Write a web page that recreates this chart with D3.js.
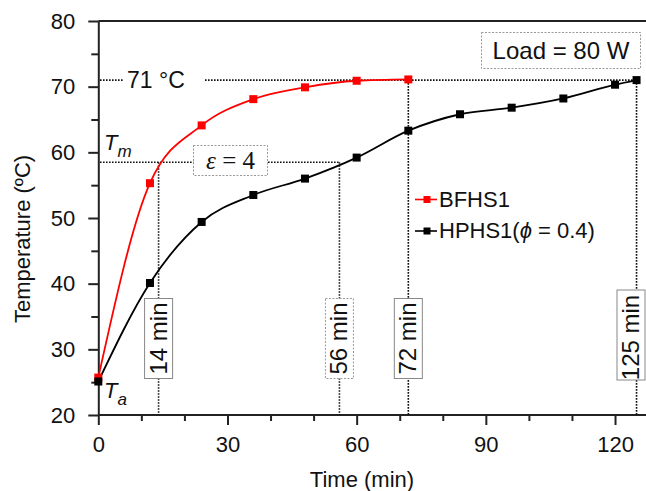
<!DOCTYPE html>
<html>
<head>
<meta charset="utf-8">
<script src="https://cdn.jsdelivr.net/npm/d3@7"></script>
<style>
  html, body { margin: 0; padding: 0; background: #fff; }
  svg { display: block; font-family: "Liberation Sans", Arial, sans-serif; }
</style>
</head>
<body>
<svg id="chart" width="646" height="491"></svg>
<script>
// Heating curves of the two heat sinks at 80 W load
const timeBF = [0, 12, 24, 36, 48, 60, 72];
const tempBF = [25.7, 55.3, 64.1, 68.1, 69.9, 70.9, 71.1];
const timeHP = [0, 12, 24, 36, 48, 60, 72, 84, 96, 108, 120, 125];
const tempHP = [25.1, 40.1, 49.4, 53.5, 56.0, 59.2, 63.3, 65.8, 66.8, 68.2, 70.3, 71.0];
const seriesNames = ["BFHS1", "HPHS1("];
const seriesColors = ["#ff0000", "#000000"];

const xMajor = [0, 30, 60, 90, 120];
const xMinor = [10, 20, 40, 50, 70, 80, 100, 110];
const yMajor = [20, 30, 40, 50, 60, 70, 80];
const yMinor = [25, 35, 45, 55, 65, 75];

const steadyTemp = 71;      // steady-state temperature
const meanTemp = 58.5;      // T_m level
const markTimes = [14, 56, 72, 125];
const markLabels = ["14 min", "56 min", "72 min", "125 min"];
const markFrom = [meanTemp, meanTemp, steadyTemp, steadyTemp];
const markDotted = [false, true, false, false];

const svg = d3.select("#chart");
const x = d3.scaleLinear().domain([0, 128]).range([98.3, 98.3 + 128 * 4.306]);
const y = d3.scaleLinear().domain([20, 80]).range([415, 21]);
const W = 646;

// axes
const axisStyle = g => {
  g.selectAll("path, line").attr("stroke", "#222").attr("stroke-width", 2);
  g.selectAll("text").attr("font-size", 22).attr("fill", "#111")
    .attr("font-family", "'Liberation Sans', Arial, sans-serif");
};
svg.append("g").attr("transform", `translate(0,${y(20)})`)
  .call(d3.axisBottom(x).tickValues(xMinor).tickSize(6).tickFormat(""))
  .call(g => g.select(".domain").remove()).call(axisStyle);
svg.append("g").attr("transform", `translate(0,${y(20)})`)
  .call(d3.axisBottom(x).tickValues(xMajor).tickSize(10).tickSizeOuter(0).tickPadding(11))
  .call(g => g.select(".domain").attr("d", `M${x(0)},0H${W}`)).call(axisStyle);
svg.append("g").attr("transform", `translate(${x(0)},0)`)
  .call(d3.axisLeft(y).tickValues(yMinor).tickSize(7).tickFormat(""))
  .call(g => g.select(".domain").remove()).call(axisStyle);
svg.append("g").attr("transform", `translate(${x(0)},0)`)
  .call(d3.axisLeft(y).tickValues(yMajor).tickSize(10).tickSizeOuter(0).tickPadding(13))
  .call(axisStyle);
// top frame line
svg.append("line").attr("x1", x(0)).attr("x2", W).attr("y1", y(80)).attr("y2", y(80))
  .attr("stroke", "#222").attr("stroke-width", 2);

// axis titles
svg.append("text").attr("x", 362).attr("y", 487).attr("text-anchor", "middle")
  .attr("font-size", 22).attr("fill", "#111").text("Time (min)");
svg.append("text").attr("transform", "translate(30,239) rotate(-90)")
  .attr("text-anchor", "middle").attr("font-size", 22).attr("fill", "#111")
  .text("Temperature (ºC)");

// dotted guide lines
const guide = svg.append("g").attr("stroke", "#111").attr("stroke-width", 1.6)
  .attr("stroke-dasharray", "1.6,1.4").attr("fill", "none");
guide.append("line").attr("x1", 100).attr("x2", x(125))
  .attr("y1", y(steadyTemp)).attr("y2", y(steadyTemp));
guide.append("line").attr("x1", 100).attr("x2", x(56))
  .attr("y1", y(meanTemp)).attr("y2", y(meanTemp));
markTimes.forEach((t, i) => {
  guide.append("line").attr("x1", x(t)).attr("x2", x(t))
    .attr("y1", y(markFrom[i])).attr("y2", y(20));
});

// curves
const curveData = [timeBF.map((t, i) => [t, tempBF[i]]), timeHP.map((t, i) => [t, tempHP[i]])];
const line = d3.line().x(d => x(d[0])).y(d => y(d[1])).curve(d3.curveMonotoneX);
curveData.forEach((pts, s) => {
  svg.append("path").datum(pts).attr("d", line).attr("fill", "none")
    .attr("stroke", seriesColors[s]).attr("stroke-width", 1.8);
});
curveData.forEach((pts, s) => {
  svg.append("g").selectAll("rect").data(pts).join("rect")
    .attr("x", d => x(d[0]) - 4).attr("y", d => y(d[1]) - 4)
    .attr("width", 8).attr("height", 8).attr("fill", seriesColors[s]);
});

// time labels on the vertical guides (kept inside the right edge)
markTimes.forEach((t, i) => {
  const long = markLabels[i].length > 6;
  const h = long ? 90 : 80;
  const cy = long ? 335 : 338.5;
  const cx = Math.min(x(t), W - 15);
  svg.append("rect").attr("x", cx - 14).attr("y", cy - h / 2)
    .attr("width", 28).attr("height", h).attr("fill", "#fff")
    .attr("stroke", markDotted[i] ? "#999" : "#888").attr("stroke-width", 1)
    .attr("stroke-dasharray", markDotted[i] ? "2,1.5" : null);
  svg.append("text").attr("transform", `translate(${cx + 8},${long ? 337.5 : cy}) rotate(-90)`)
    .attr("text-anchor", "middle").attr("font-size", 24).attr("fill", "#111")
    .text(markLabels[i]);
});

// steady temperature label
svg.append("rect").attr("x", 124).attr("y", y(steadyTemp) - 12).attr("width", 80)
  .attr("height", 24).attr("fill", "#fff");
svg.append("text").attr("x", 127).attr("y", 88).attr("font-size", 23)
  .attr("fill", "#111").text(`${steadyTemp} °C`);

// epsilon box
svg.append("rect").attr("x", 193.5).attr("y", 145.5).attr("width", 74).attr("height", 30)
  .attr("fill", "#fff").attr("stroke", "#999").attr("stroke-dasharray", "2,1.5");
const eps = svg.append("text").attr("x", 230.5).attr("y", 169).attr("text-anchor", "middle")
  .attr("font-family", "'Liberation Serif', 'DejaVu Serif', serif").attr("font-size", 25)
  .attr("fill", "#111");
eps.append("tspan").attr("font-style", "italic").text("ε");
eps.append("tspan").text(" = 4");

// load box
svg.append("rect").attr("x", 481.5).attr("y", 32.5).attr("width", 159).attr("height", 36)
  .attr("fill", "#fff").attr("stroke", "#999").attr("stroke-dasharray", "2,1.5");
svg.append("text").attr("x", 561).attr("y", 59).attr("text-anchor", "middle")
  .attr("font-size", 24).attr("fill", "#111").text("Load = 80 W");

// T_m and T_a labels
const tm = svg.append("text").attr("x", 104).attr("y", 150).attr("font-size", 22)
  .attr("font-style", "italic").attr("fill", "#111");
tm.append("tspan").text("T");
tm.append("tspan").attr("dy", 7).attr("font-size", 17).text("m");
const ta = svg.append("text").attr("x", 104).attr("y", 398).attr("font-size", 22)
  .attr("font-style", "italic").attr("fill", "#111");
ta.append("tspan").text("T");
ta.append("tspan").attr("dy", 7).attr("font-size", 17).text("a");

// legend
const legend = svg.append("g");
seriesNames.forEach((name, i) => {
  const ly = 199.5 + i * 31.5;
  legend.append("line").attr("x1", 415).attr("x2", 437).attr("y1", ly).attr("y2", ly)
    .attr("stroke", seriesColors[i]).attr("stroke-width", 1.6);
  legend.append("rect").attr("x", 423.5).attr("y", ly - 3.5).attr("width", 7).attr("height", 7)
    .attr("fill", seriesColors[i]);
  const t = legend.append("text").attr("x", 439).attr("y", ly + 7).attr("font-size", 22)
    .attr("fill", "#111").text(name);
  if (i === 1) {
    t.append("tspan").attr("font-style", "italic").text("ϕ");
    t.append("tspan").text(" = 0.4)");
  }
});
</script>
</body>
</html>
